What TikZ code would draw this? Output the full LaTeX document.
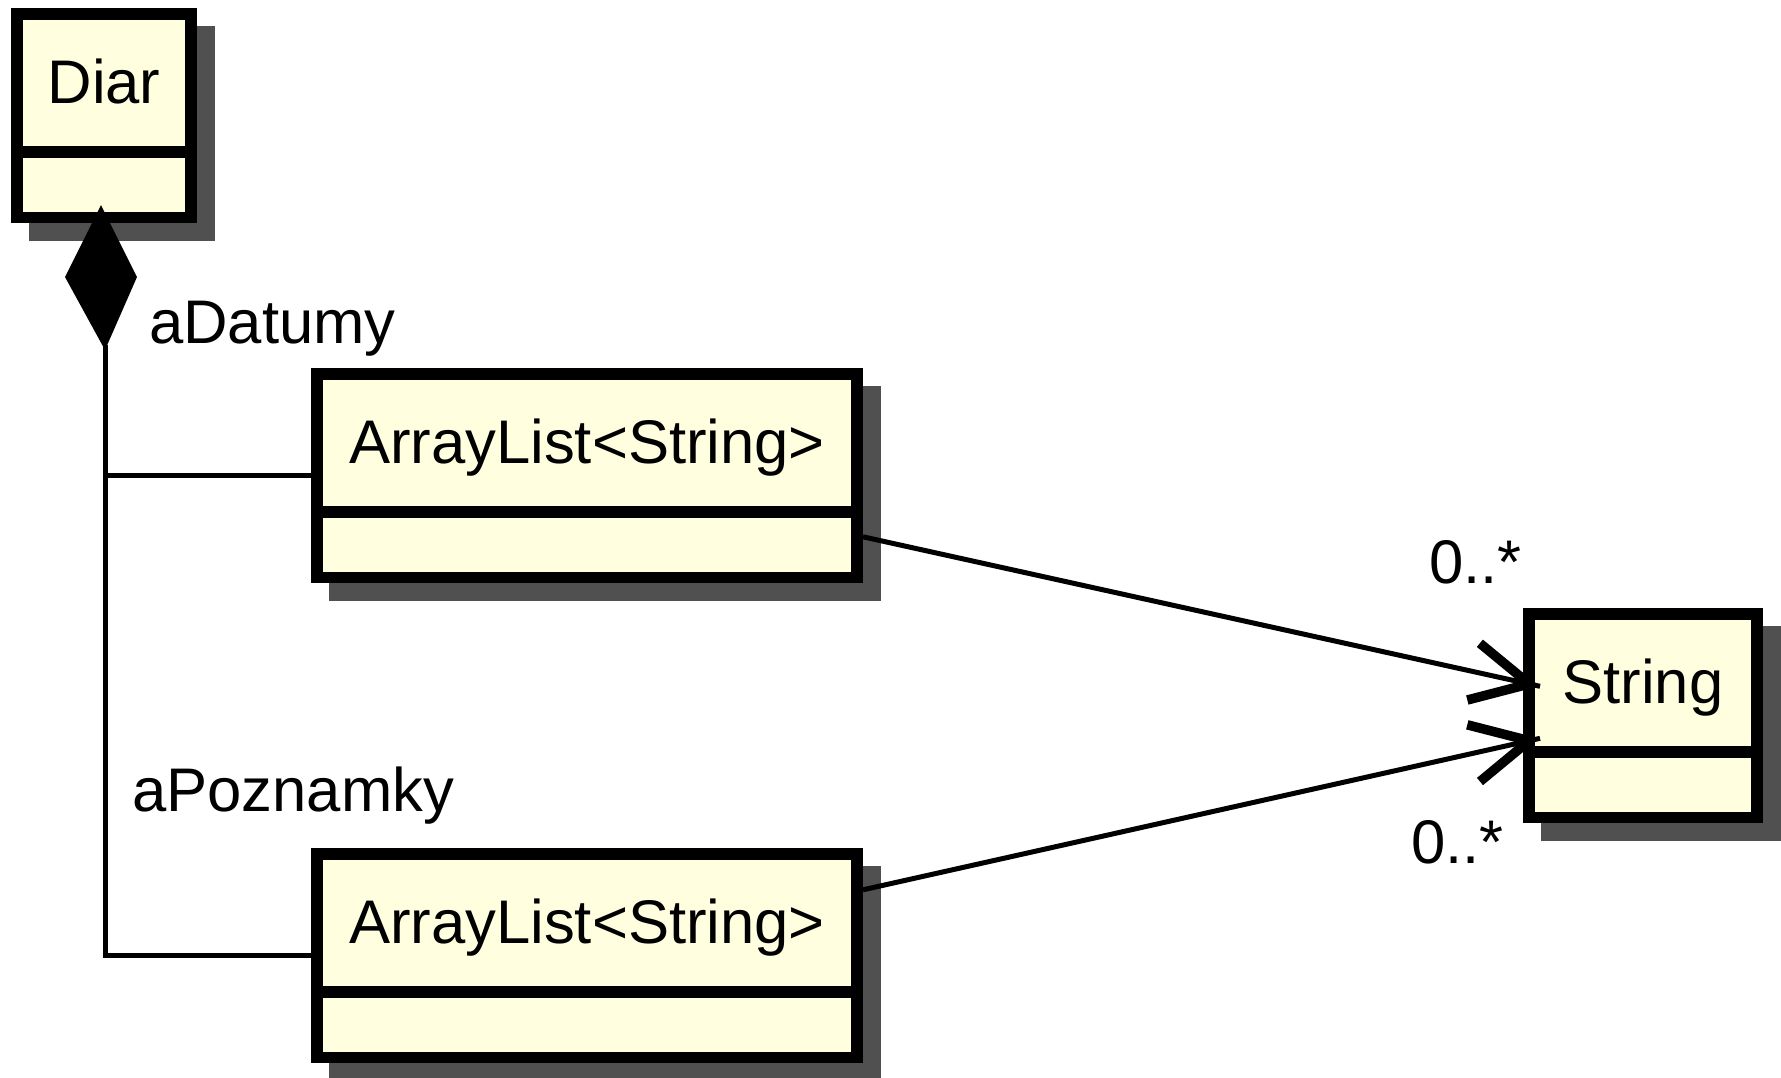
\documentclass[tikz,border=0pt]{standalone}
\usepackage{fontspec}
\setmainfont{Liberation Sans}
\usetikzlibrary{calc,backgrounds}
\definecolor{classfill}{HTML}{FFFFE0}
\definecolor{shadowgray}{HTML}{505050}
\begin{document}
\begin{tikzpicture}[x=1pt,y=-1pt,
  every node/.style={font=\fontsize{61.6}{70}\selectfont},
  umlclass/.style={draw=black, line width=11.7pt, fill=classfill, inner sep=0pt},
  classname/.style={anchor=base, inner sep=0pt},
  roletext/.style={anchor=base west, inner sep=0pt},
  link/.style={line width=5pt, line join=miter},
  barb/.style={line width=9.5pt, line join=miter, line cap=butt},
  dropshade/.style={fill=shadowgray},
  divider/.style={line width=11.6pt}
]
\useasboundingbox (0,0) rectangle (1781,1077);

% class boxes
\node[umlclass, minimum width=174.3pt, minimum height=203.3pt] (diar) at (104,115.8) {};
\node[umlclass, minimum width=540.3pt, minimum height=203.3pt] (box1) at (587,475.8) {};
\node[umlclass, minimum width=540.3pt, minimum height=203.3pt] (box2) at (587,955.8) {};
\node[umlclass, minimum width=228.3pt, minimum height=203.3pt] (str) at (1643,715.8) {};

% drop shadows behind the boxes
\begin{scope}[on background layer]
  \foreach \n in {diar,box1,box2,str}
    \fill[dropshade] ([shift={(18,18)}]\n.north west) rectangle ([shift={(18,18)}]\n.south east);
\end{scope}

% compartment dividers and class names
\foreach \n in {diar,box1,box2,str}
  \draw[divider] ([yshift=-143.5pt]\n.north west) -- ([yshift=-143.5pt]\n.north east);
\node[classname] (diarname) at ([yshift=-95pt]diar.north) {Diar};
\node[classname] (box1name) at ([yshift=-95pt]box1.north) {ArrayList<String>};
\node[classname] (box2name) at ([yshift=-95pt]box2.north) {ArrayList<String>};
\node[classname] (strname) at ([yshift=-95pt]str.north) {String};

% composition: filled diamond at Diar, branching to both lists
\fill (101,205) -- (137,277) -- (105,350) -- (65,277) -- cycle;
\coordinate (dbot) at (105,345);
\draw[link] (dbot) -- (dbot |- box2.west) -- (box2.west);
\draw[link] (dbot |- box1.west) -- (box1.west);

% role names
\node[roletext] (roleA) at (149,343) {aDatumy};
\node[roletext] (roleB) at (132,811.7) {aPoznamky};

% navigable associations to String
\coordinate (s1) at ([yshift=-61pt]box1.east);
\coordinate (t1) at ([xshift=17pt,yshift=29.5pt]str.west);
\coordinate (s2) at ([yshift=66pt]box2.east);
\coordinate (t2) at ([xshift=17pt,yshift=-22.5pt]str.west);
\draw[link] (s1) -- (t1);
\draw[link] (s2) -- (t2);
\coordinate (p1) at ($(t1)!11pt!(s1)$);
\coordinate (p2) at ($(t2)!11pt!(s2)$);
\draw[barb] ($(p1)!64pt!27:(s1)$) -- (p1) -- ($(p1)!64pt!-27:(s1)$);
\draw[barb] ($(p2)!64pt!27:(s2)$) -- (p2) -- ($(p2)!64pt!-27:(s2)$);

% multiplicities
\node[roletext] (mult1) at (1429,583) {0..*};
\node[roletext] (mult2) at (1411,863) {0..*};
\end{tikzpicture}
\end{document}
